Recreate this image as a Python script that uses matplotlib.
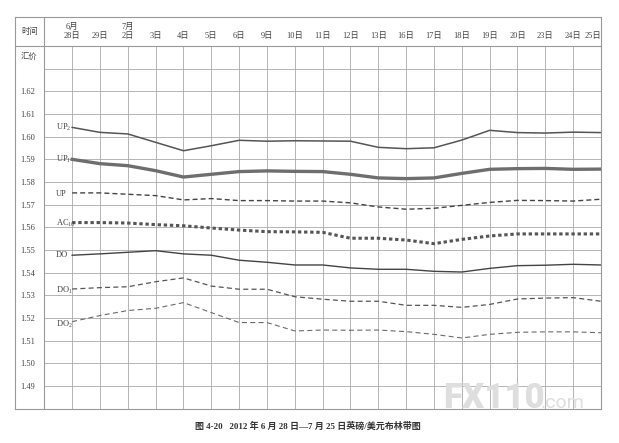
import matplotlib
matplotlib.use('Agg')
import matplotlib.pyplot as plt
from matplotlib.lines import Line2D

plt.rcParams['font.family'] = ['Liberation Serif', 'Noto Sans CJK SC', 'DejaVu Sans']
plt.rcParams['mathtext.fontset'] = 'custom'
plt.rcParams['mathtext.rm'] = 'Liberation Serif'
plt.rcParams['mathtext.it'] = 'Liberation Serif:italic'

# Datos ######################################################################
fechas = ['6月\n28日', '29日', '7月\n2日', '3日', '4日', '5日', '6日', '9日', '10日',
          '11日', '12日', '13日', '16日', '17日', '18日', '19日', '20日', '23日',
          '24日', '25日']

up2  = [1.6041, 1.6019, 1.6012, 1.5975, 1.5938, 1.5960, 1.5984, 1.5980, 1.5982, 1.5981,
        1.5980, 1.5953, 1.5947, 1.5951, 1.5985, 1.6028, 1.6018, 1.6016, 1.6020, 1.6018]
up1  = [1.5900, 1.5881, 1.5872, 1.5850, 1.5822, 1.5834, 1.5846, 1.5849, 1.5847, 1.5846,
        1.5834, 1.5818, 1.5815, 1.5818, 1.5838, 1.5856, 1.5859, 1.5860, 1.5856, 1.5857]
up   = [1.5752, 1.5752, 1.5746, 1.5740, 1.5721, 1.5727, 1.5718, 1.5718, 1.5716, 1.5716,
        1.5708, 1.5690, 1.5680, 1.5684, 1.5697, 1.5710, 1.5719, 1.5718, 1.5716, 1.5724]
ac10 = [1.5621, 1.5621, 1.5619, 1.5612, 1.5607, 1.5597, 1.5588, 1.5581, 1.5580, 1.5578,
        1.5552, 1.5552, 1.5544, 1.5528, 1.5547, 1.5562, 1.5571, 1.5571, 1.5571, 1.5571]
do   = [1.5477, 1.5483, 1.5490, 1.5497, 1.5483, 1.5477, 1.5455, 1.5446, 1.5434, 1.5434,
        1.5421, 1.5415, 1.5415, 1.5406, 1.5403, 1.5419, 1.5431, 1.5433, 1.5437, 1.5434]
do1  = [1.5328, 1.5334, 1.5338, 1.5360, 1.5377, 1.5341, 1.5327, 1.5327, 1.5294, 1.5283,
        1.5274, 1.5274, 1.5256, 1.5256, 1.5247, 1.5260, 1.5284, 1.5288, 1.5290, 1.5274]
do2  = [1.5184, 1.5211, 1.5233, 1.5243, 1.5268, 1.5224, 1.5180, 1.5180, 1.5143, 1.5147,
        1.5146, 1.5147, 1.5140, 1.5128, 1.5112, 1.5128, 1.5137, 1.5139, 1.5139, 1.5135]

niveles = [1.49, 1.50, 1.51, 1.52, 1.53, 1.54, 1.55, 1.56, 1.57, 1.58, 1.59, 1.60, 1.61, 1.62, 1.63]
etiq_niveles = ['1.49', '1.50', '1.51', '1.52', '1.53', '1.54', '1.55', '1.56', '1.57',
                '1.58', '1.59', '1.60', '1.61', '1.62', '']

titulo = '图 4-20   2012 年 6 月 28 日—7 月 25 日英磅/美元布林带图'

# Figura #####################################################################
W, H = 619, 443
fig = plt.figure(figsize=(W/100, H/100), dpi=100)

def fx(x): return x / W
def fy(y): return 1 - y / H

x0, x1, y0, y1 = 44.3, 601, 46, 408.7   # cuerpo de la tabla, en pixeles
ax = fig.add_axes([fx(x0), fy(y1), fx(x1) - fx(x0), fy(y0) - fy(y1)])
xs = list(range(len(fechas)))
ax.set_xlim(-1, len(fechas) - 1)
ax.set_ylim(1.48, 1.64)

gris = '#999999'
ax.set_yticks(niveles, etiq_niveles)
ax.set_xticks(xs, fechas)
ax.xaxis.tick_top()
ax.tick_params(axis='both', length=0, labelsize=6, colors='#444444')
ax.tick_params(axis='y', pad=6.5)
ax.tick_params(axis='x', pad=4.5)
for lab in ax.get_xticklabels():
    lab.set_linespacing(1.15)
ax.get_xticklabels()[-1].set_ha('right')
ax.grid(True, color='#a8a8a8', lw=0.6)
for s in ax.spines.values():
    s.set_color(gris)
    s.set_linewidth(0.8)

# Series
ax.plot(xs, up2,  color='#555555', lw=1.1)
ax.plot(xs, up1,  color='#6e6e6e', lw=2.4)
ax.plot(xs, up,   color='#444444', lw=1.0, dashes=(3.6, 2.2))
ax.plot(xs, ac10, color='#555555', lw=2.2, dashes=(1.1, 0.9))
ax.plot(xs, do,   color='#444444', lw=1.0)
ax.plot(xs, do1,  color='#555555', lw=0.9, dashes=(4, 2.6))
ax.plot(xs, do2,  color='#6a6a6a', lw=0.8, dashes=(4.5, 3))

# Nombres de las bandas
for nombre, serie, dy in [(r'UP$_2$', up2, 0), (r'UP$_1$', up1, 0), ('UP', up, -0.0004),
                          (r'AC$_{10}$', ac10, -0.0005), ('DO', do, 0),
                          (r'DO$_1$', do1, -0.0007), (r'DO$_2$', do2, -0.0013)]:
    ax.text(-0.58, serie[0] + dy, nombre, ha='left', va='center', size=6, color='#444444')

# Encabezado y columna izquierda
def linea(xa, ya, xb, yb):
    fig.add_artist(Line2D([fx(xa), fx(xb)], [fy(ya), fy(yb)], transform=fig.transFigure,
                          color=gris, lw=0.8))

linea(15, 17, 601, 17)
linea(15, 17, 15, 408.7)
linea(601, 17, 601, 46)
linea(15, 46, 44.3, 46)
linea(15, 408.7, 44.3, 408.7)
linea(44.3, 17, 44.3, 46)

fig.text(fx(29.5), fy(32), '时间', ha='center', va='center', size=6, color='#444444')
fig.text(fx(29.5), fy(57), '汇价', ha='center', va='center', size=6, color='#444444')

# Marca de agua
fig.text(fx(443), fy(408), 'FX110', ha='left', va='baseline', size=25, weight='black',
         family='Roboto', color='#dedede', zorder=0.5)
fig.text(fx(541), fy(408), '.com', ha='left', va='baseline', size=14,
         family='Roboto', color='#dedede', zorder=0.5)

# Título
fig.text(fx(308), fy(426), titulo, ha='center', va='center', size=6.5, weight='bold',
         color='#333333')

fig.savefig('out.png', dpi=100)
